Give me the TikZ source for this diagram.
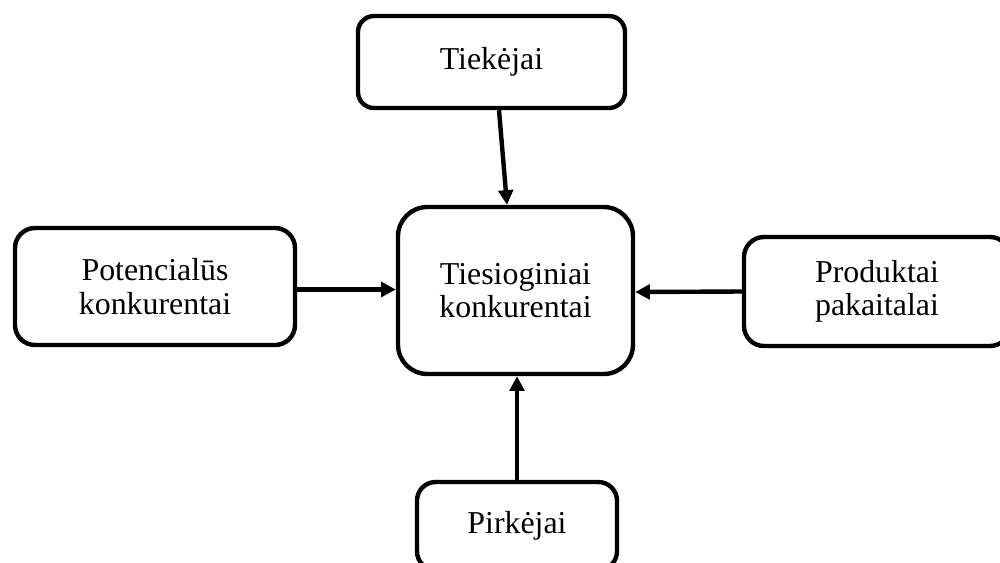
\documentclass[tikz,border=0pt]{standalone}
\usepackage{fontspec}
\setmainfont{Liberation Serif}
\usetikzlibrary{arrows.meta,calc}

\tikzset{
  force/.style={draw=black, line width=3.3pt, fill=white, align=center,
    inner sep=0pt, font=\fontsize{23.9}{25}\selectfont},
  link/.style={line width=3.3pt, -{Triangle[length=11pt,width=11pt]}}
}

\begin{document}
\begin{tikzpicture}[x=0.75pt, y=-0.75pt]
  \clip (0,0) rectangle (1000,562);
  \useasboundingbox (0,0) rectangle (1000,562);

  % five forces around the rivalry box
  \node[force, rounded corners=22pt, minimum width=176.25pt, minimum height=125.25pt]
    (rivals) at (515.5,290.5) {Tiesioginiai\\konkurentai};
  \node[force, rounded corners=12pt, minimum width=200.25pt, minimum height=69pt]
    (suppliers) at (491.5,62) {Tiekėjai};
  \node[force, rounded corners=15pt, minimum width=210pt, minimum height=87.75pt]
    (entrants) at (155,286.5) {Potencialūs\\konkurentai};
  \node[force, rounded corners=15pt, minimum width=199.5pt, minimum height=81.75pt]
    (substitutes) at (877,291.5) {Produktai\\pakaitalai};
  \node[force, rounded corners=14pt, minimum width=150pt, minimum height=66pt]
    (buyers) at (517,526) {Pirkėjai};

  % influences pointing to the centre
  \draw[link] ($(suppliers.south)+(7.5,0)$) -- ($(rivals.north)+(-8.5,0)$);
  \draw[link] ($(entrants.east)+(0,3)$) -- ($(rivals.west)+(0,-1)$);
  \draw[link] (substitutes.west) -- ($(rivals.east)+(0,1.5)$);
  \draw[link] (buyers.north) -- ($(rivals.south)+(1.5,0)$);
\end{tikzpicture}
\end{document}
